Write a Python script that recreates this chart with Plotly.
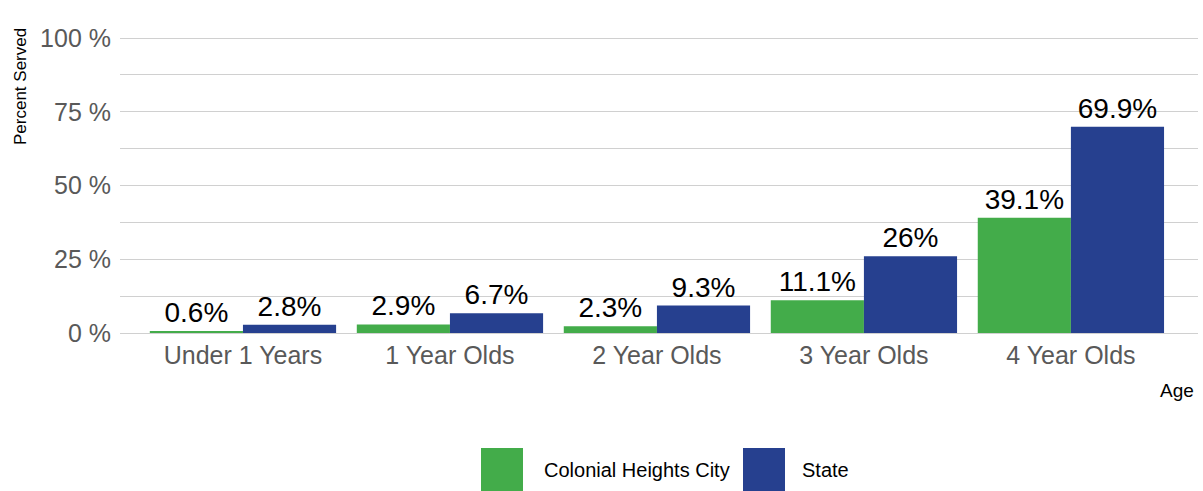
import plotly.graph_objects as go

categories = ["Under 1 Years", "1 Year Olds", "2 Year Olds", "3 Year Olds", "4 Year Olds"]
city_values = [0.6, 2.9, 2.3, 11.1, 39.1]
state_values = [2.8, 6.7, 9.3, 26, 69.9]
series_names = ["Colonial Heights City", "State"]
y_ticks = [0, 25, 50, 75, 100]
y_tick_labels = ["0 %", "25 %", "50 %", "75 %", "100 %"]

GREEN = "#43AC4A"
BLUE = "#26408F"

W, H = 1203, 491
L, R, T, B = 120, 5, 37, 158
pw, ph = W - L - R, H - T - B

def px(x):
    return (x - L) / pw

def py(y):
    return (H - B - y) / ph

fig = go.Figure()
for name, vals, col in [(series_names[0], city_values, GREEN), (series_names[1], state_values, BLUE)]:
    fig.add_trace(go.Bar(
        name=name, x=categories, y=vals, marker_color=col, marker_line_width=0,
        text=[f"{v:g}%" for v in vals], textposition="outside", cliponaxis=False,
        textfont=dict(family="Liberation Sans, Arial", size=28, color="black"),
        showlegend=False,
    ))

shapes = []
annotations = []
for (x0, name, col, tx) in [(481, series_names[0], GREEN, 542), (743, series_names[1], BLUE, 800)]:
    shapes.append(dict(type="rect", xref="paper", yref="paper", x0=px(x0), x1=px(x0 + 42),
                       y0=py(491), y1=py(448), fillcolor=col, line_width=0, layer="above"))
    annotations.append(dict(text=name, xref="paper", yref="paper", x=px(tx), y=py(470),
                            xanchor="left", yanchor="middle", showarrow=False,
                            font=dict(family="Liberation Sans, Arial", size=20, color="black")))

annotations.append(dict(text="Age", xref="paper", yref="paper", x=px(1196), y=py(390),
                        xanchor="right", yanchor="middle", showarrow=False,
                        font=dict(family="Liberation Sans, Arial", size=19, color="black")))
annotations.append(dict(text="Percent Served", xref="paper", yref="paper", x=px(20), y=py(87),
                        xanchor="center", yanchor="middle", textangle=-90, showarrow=False,
                        font=dict(family="Liberation Sans, Arial", size=17, color="black")))

fig.update_layout(
    width=W, height=H,
    margin=dict(l=L, r=R, t=T, b=B),
    paper_bgcolor="white", plot_bgcolor="white",
    barmode="group", bargap=0.1, bargroupgap=0,
    shapes=shapes, annotations=annotations,
    xaxis=dict(range=[-0.594, 4.614], showgrid=False, showline=True, linecolor="#d0d0d0",
               tickfont=dict(family="Liberation Sans, Arial", size=25, color="#595959"),
               ticks="", fixedrange=True),
    yaxis=dict(range=[0, 100.35], tickvals=y_ticks, ticktext=y_tick_labels, showgrid=True,
               gridcolor="#d0d0d0", zeroline=False,
               minor=dict(tickvals=[12.5, 37.5, 62.5, 87.5], showgrid=True, gridcolor="#d0d0d0"),
               tickfont=dict(family="Liberation Sans, Arial", size=25, color="#595959"),
               ticks="", ticklabelstandoff=8),
)

fig.write_html("out.html")
